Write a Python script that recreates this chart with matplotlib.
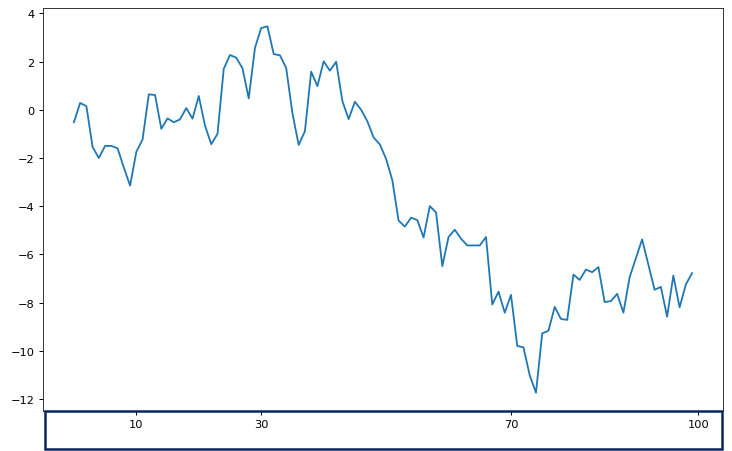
import matplotlib.pyplot as plt
from matplotlib.patches import Rectangle

# Valores da série
valores = [
    -0.52, 0.28, 0.15, -1.55, -2.0, -1.5, -1.5, -1.6, -2.4, -3.15,
    -1.75, -1.23, 0.64, 0.61, -0.79, -0.36, -0.52, -0.4, 0.07, -0.37,
    0.57, -0.66, -1.43, -1.0, 1.7, 2.27, 2.16, 1.72, 0.47, 2.57,
    3.39, 3.46, 2.31, 2.26, 1.73, -0.15, -1.46, -0.89, 1.58, 0.98,
    2.01, 1.62, 1.99, 0.36, -0.39, 0.33, 0.0, -0.48, -1.15, -1.44,
    -2.04, -2.93, -4.6, -4.85, -4.48, -4.58, -5.3, -4.0, -4.26, -6.49,
    -5.28, -4.98, -5.35, -5.63, -5.63, -5.63, -5.28, -8.08, -7.55, -8.42,
    -7.68, -9.8, -9.86, -11.02, -11.74, -9.28, -9.17, -8.18, -8.68, -8.72,
    -6.84, -7.06, -6.63, -6.74, -6.53, -7.98, -7.94, -7.64, -8.42, -6.95,
    -6.16, -5.38, -6.43, -7.47, -7.35, -8.59, -6.88, -8.2, -7.25, -6.78,
]
indices = list(range(len(valores)))

# Ticks do eixo x
xticks = [10, 30, 70, 100]
xticklabels = ['10', '30', '70', '100']

plt.rcParams['font.size'] = 8.2

fig = plt.figure(figsize=(7.32, 4.52), dpi=100)
ax = fig.add_axes([0.0587, 0.0885, 0.9290, 0.8915])

ax.plot(indices, valores, color='#1f77b4', linewidth=1.3)

ax.set_xticks(xticks)
ax.set_xticklabels(xticklabels)
ax.set_yticks(range(-12, 5, 2))
ax.tick_params(length=3, width=0.7, pad=3)
for s in ax.spines.values():
    s.set_linewidth(0.7)
    s.set_color('#333333')

# Caixa destacando o eixo x
caixa = Rectangle((0.0615, 0.0045), 0.925, 0.084, transform=fig.transFigure,
                  fill=False, edgecolor='#0c2461', linewidth=1.8, zorder=10)
fig.patches.append(caixa)

plt.savefig('out.png', dpi=100)
